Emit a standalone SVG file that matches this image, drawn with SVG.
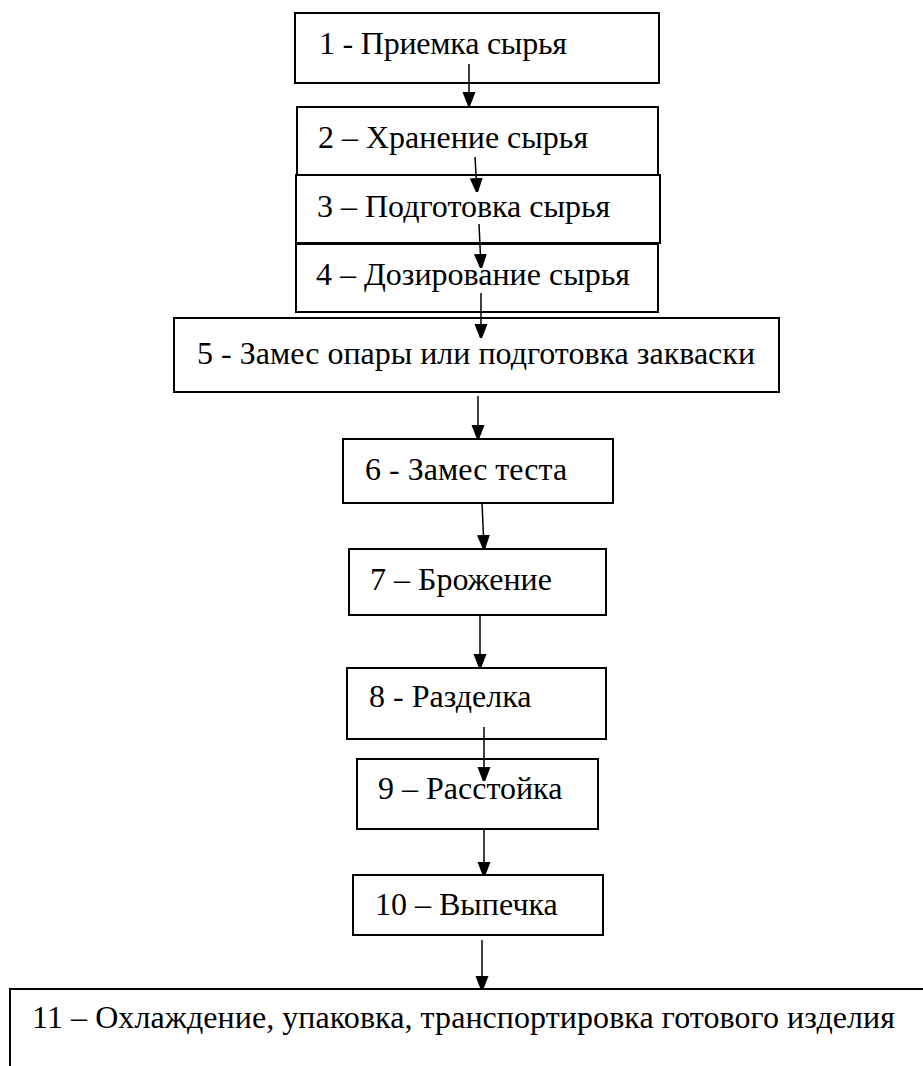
<svg xmlns="http://www.w3.org/2000/svg" width="923" height="1066" viewBox="0 0 923 1066">
<style>
.box{fill:#fff;stroke:#000;stroke-width:2}
.lbl{font-family:'Liberation Serif','DejaVu Serif',serif;font-size:32px;fill:#000}
.con{stroke:#000;stroke-width:1.5;fill:none}
</style>
<defs>
<marker id="ah" markerUnits="userSpaceOnUse" markerWidth="14" markerHeight="18" refX="13" refY="6.5" orient="auto">
<path d="M0,0 L13,6.5 L0,13 Z" fill="#000" transform="scale(1.3,1)"/>
</marker>
</defs>
<rect width="923" height="1066" fill="#fff"/>
<g id="n1"><rect class="box" x="295" y="13" width="364" height="70"/><text class="lbl" x="319" y="54" textLength="248">1 - Приемка сырья</text></g>
<g id="n2"><rect class="box" x="297" y="107" width="361" height="68"/><text class="lbl" x="318" y="148">2 – Хранение сырья</text></g>
<g id="n3"><rect class="box" x="296" y="175" width="364" height="68"/><text class="lbl" x="317" y="217">3 – Подготовка сырья</text></g>
<g id="n4"><rect class="box" x="296" y="244" width="362" height="68"/><text class="lbl" x="316" y="285">4 – Дозирование сырья</text></g>
<g id="n5"><rect class="box" x="174" y="318" width="605" height="74"/><text class="lbl" x="197" y="364" textLength="558">5 - Замес опары или подготовка закваски</text></g>
<g id="n6"><rect class="box" x="343" y="439" width="270" height="64"/><text class="lbl" x="365" y="480">6 - Замес теста</text></g>
<g id="n7"><rect class="box" x="349" y="549" width="257" height="66"/><text class="lbl" x="370" y="590">7 – Брожение</text></g>
<g id="n8"><rect class="box" x="347" y="668" width="259" height="71"/><text class="lbl" x="369" y="707">8 - Разделка</text></g>
<g id="n9"><rect class="box" x="357" y="759" width="241" height="70"/><text class="lbl" x="378" y="799">9 – Расстойка</text></g>
<g id="n10"><rect class="box" x="353" y="875" width="250" height="60"/><text class="lbl" x="375" y="915">10 – Выпечка</text></g>
<g id="n11"><path class="box" d="M10,1070 V989 H930"/><text class="lbl" x="32" y="1028" textLength="863">11 – Охлаждение, упаковка, транспортировка готового изделия</text></g>
<g id="connectors">
<line class="con" x1="469" y1="64" x2="469" y2="105" marker-end="url(#ah)"/>
<line class="con" x1="475" y1="157" x2="477" y2="191" marker-end="url(#ah)"/>
<line class="con" x1="479" y1="224" x2="481" y2="267" marker-end="url(#ah)"/>
<line class="con" x1="481" y1="293" x2="481" y2="337" marker-end="url(#ah)"/>
<line class="con" x1="478" y1="396" x2="478" y2="438" marker-end="url(#ah)"/>
<line class="con" x1="482" y1="503" x2="484" y2="548" marker-end="url(#ah)"/>
<line class="con" x1="480" y1="615" x2="480" y2="667" marker-end="url(#ah)"/>
<line class="con" x1="484" y1="727" x2="484" y2="780" marker-end="url(#ah)"/>
<line class="con" x1="484" y1="829" x2="484" y2="875" marker-end="url(#ah)"/>
<line class="con" x1="482" y1="940" x2="482" y2="989" marker-end="url(#ah)"/>
</g>
</svg>
